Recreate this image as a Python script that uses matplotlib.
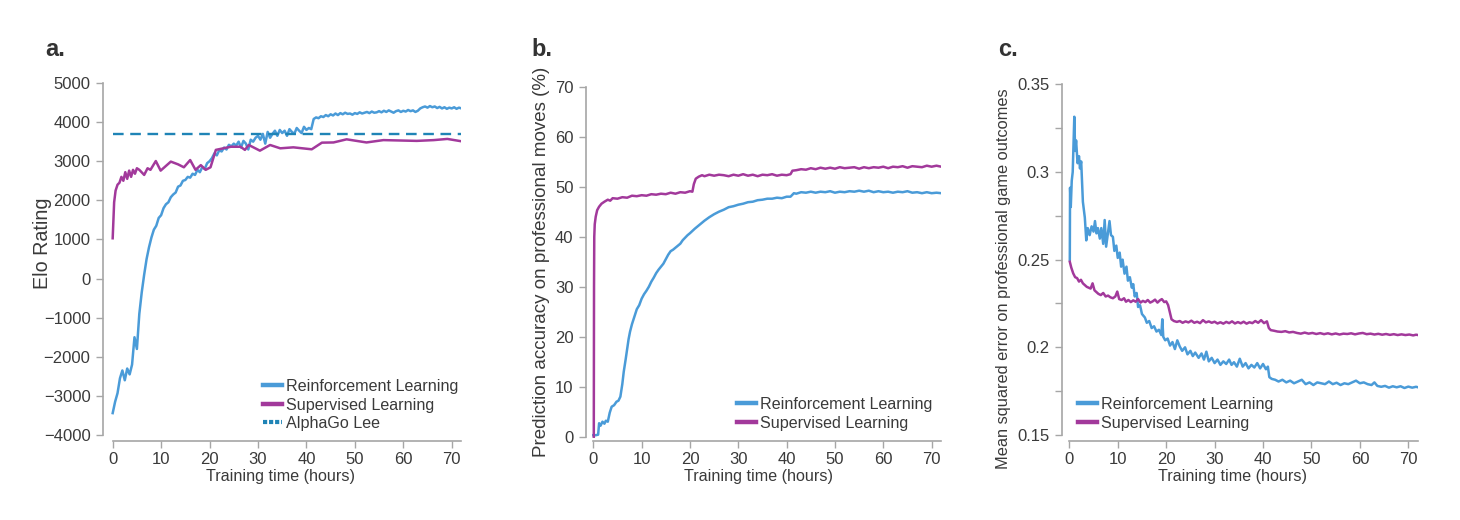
import numpy as np
import matplotlib
matplotlib.use("Agg")
import matplotlib.pyplot as plt

plt.rcParams['font.family'] = ['Liberation Sans', 'DejaVu Sans']

# ---------------- data ----------------
LABEL_RL = "Reinforcement Learning"
LABEL_SL = "Supervised Learning"
LABEL_LEE = "AlphaGo Lee"
XLABEL = "Training time (hours)"
XTICKS = [0, 10, 20, 30, 40, 50, 60, 70]

# Panel a: Elo rating
elo_rl_x = list(np.arange(0, 72.5, 0.5))
elo_rl = [-3440, -3150, -2930, -2550, -2350, -2600, -2300, -2450, -2200, -1500,
          -1800, -900, -350, 100, 500, 800, 1050, 1250, 1350, 1550,
          1620, 1800, 1900, 1950, 2080, 2150, 2200, 2350, 2380, 2500,
          2520, 2600, 2580, 2680, 2650, 2780, 2720, 2850, 2800, 2950,
          3000, 3080, 3200, 3150, 3280, 3250, 3350, 3300, 3420, 3380,
          3450, 3400, 3500, 3350, 3520, 3450, 3300, 3550, 3500, 3600,
          3650, 3550, 3700, 3450, 3750, 3600, 3700, 3780, 3650, 3800,
          3720, 3780, 3650, 3820, 3750, 3700, 3850, 3780, 3720, 3880,
          3800, 3850, 3820, 4080, 4120, 4100, 4150, 4130, 4180, 4150,
          4200, 4170, 4220, 4180, 4230, 4200, 4240, 4210, 4220, 4190,
          4230, 4210, 4250, 4220, 4240, 4260, 4230, 4270, 4240, 4250,
          4280, 4250, 4290, 4260, 4300, 4270, 4240, 4280, 4300, 4260,
          4290, 4270, 4310, 4280, 4300, 4260, 4290, 4350, 4380, 4400,
          4370, 4410, 4380, 4400, 4360, 4390, 4350, 4380, 4340, 4370,
          4350, 4380, 4340, 4370, 4350]
elo_sl_x = [0, 0.3, 0.6, 1.0, 1.4, 1.8, 2.2, 2.6, 3.0, 3.4, 3.8, 4.2, 4.6, 5.0, 5.5,
            6.5, 7.2, 7.8, 8.9, 9.9, 12.0, 13.5, 14.7, 16.0, 17.1, 18.2, 19.2, 20.2,
            21.3, 24.4, 26.4, 27.3, 28.1, 30.4, 32.5, 34.6, 37.3, 41.1, 43.2, 45.6,
            48.3, 52.4, 55.9, 62.8, 66.3, 69.1, 72.0]
elo_sl = [1030, 1950, 2250, 2400, 2450, 2600, 2500, 2720, 2550, 2760, 2600, 2780,
          2680, 2820, 2780, 2650, 2820, 2780, 3005, 2760, 2990, 2920, 2845, 3030,
          2780, 2900, 2780, 2845, 3290, 3370, 3370, 3290, 3415, 3270, 3415, 3330,
          3355, 3305, 3475, 3480, 3560, 3480, 3540, 3520, 3540, 3570, 3510]
alphago_lee_elo = 3700

# Panel b: prediction accuracy (%)
acc_sl_x = [0.1, 0.15, 0.2, 0.3, 0.5, 0.8, 1.2, 1.7, 2.3, 3, 3.5, 4, 5, 6, 7, 8, 9,
            10, 11, 12, 13, 14, 15, 16, 17, 18, 19, 20, 20.5, 20.8, 21.2, 21.8,
            22.5, 23, 24, 25, 26, 27, 28, 29, 30, 31, 32, 33, 34, 35, 36, 37, 38,
            39, 40, 40.8, 41.2, 42, 43, 44, 45, 46, 47, 48, 49, 50, 51, 52, 53, 54,
            55, 56, 57, 58, 59, 60, 61, 62, 63, 64, 65, 66, 67, 68, 69, 70, 71, 72]
acc_sl = [0, 30, 40, 42.5, 44, 45.3, 46, 46.6, 47, 47.4, 47.2, 47.7, 47.6, 47.9,
          47.8, 48.2, 48.1, 48.3, 48.2, 48.5, 48.4, 48.6, 48.5, 48.8, 48.6, 48.9,
          48.8, 49.1, 49.0, 50.5, 51.6, 52.0, 52.3, 52.1, 52.4, 52.2, 52.4, 52.3,
          52.1, 52.4, 52.2, 52.5, 52.2, 52.4, 52.1, 52.4, 52.3, 52.5, 52.2, 52.4,
          52.3, 52.5, 53.2, 53.3, 53.5, 53.4, 53.7, 53.5, 53.8, 53.6, 53.8, 53.6,
          53.9, 53.7, 53.8, 53.9, 53.6, 53.9, 53.7, 53.9, 53.8, 54.0, 53.7, 54.0,
          53.9, 54.1, 53.8, 54.1, 54.0, 53.9, 54.2, 54.0, 54.2, 54.0]
acc_rl_x = [0, 0.5, 1.0, 1.2, 1.5, 1.9, 2.3, 2.6, 3.0, 3.4, 3.8, 4.3, 4.8, 5.2, 5.6,
            6.0, 6.3, 6.7, 7.0, 7.3, 7.6, 8.0, 8.5, 9, 9.5, 10, 10.5, 11, 11.5, 12,
            12.5, 13, 13.5, 14, 14.5, 15, 15.5, 16, 16.5, 17, 17.5, 18, 18.5, 19,
            19.5, 20, 21, 22, 23, 24, 25, 26, 27, 28, 29, 30, 31, 32, 33, 34, 35,
            36, 37, 38, 39, 40, 40.8, 41.5, 42, 43, 44, 45, 46, 47, 48, 49, 50, 51,
            52, 53, 54, 55, 56, 57, 58, 59, 60, 61, 62, 63, 64, 65, 66, 67, 68, 69,
            70, 71, 72]
acc_rl = [0.3, 0.3, 0.4, 2.7, 2.2, 3.0, 2.6, 3.2, 3.0, 4.8, 6.0, 6.3, 7.0, 7.2, 8.0,
          10.5, 13, 15.5, 17.5, 19.5, 21, 22.5, 24, 25.5, 26.3, 27.6, 28.5, 29.2,
          30.0, 31.0, 31.8, 32.7, 33.4, 34.0, 34.6, 35.5, 36.4, 37.1, 37.4, 37.8,
          38.2, 38.6, 39.3, 39.8, 40.3, 40.7, 41.6, 42.4, 43.2, 43.9, 44.5, 45.0,
          45.4, 45.9, 46.1, 46.4, 46.6, 46.9, 47.0, 47.3, 47.4, 47.6, 47.6, 47.8,
          47.7, 48.0, 48.0, 48.7, 48.6, 48.9, 48.8, 49.0, 48.8, 49.0, 48.9, 49.1,
          48.8, 49.0, 48.9, 49.1, 49.0, 49.2, 49.0, 49.2, 48.9, 49.1, 48.9, 49.0,
          48.8, 49.0, 48.9, 49.1, 48.8, 48.9, 48.7, 48.9, 48.7, 48.8, 48.7]

# Panel c: mean squared error on game outcomes
mse_rl_x = [0.1, 0.15, 0.3, 0.5, 0.7, 0.9, 1.03, 1.2, 1.4, 1.7, 2.0, 2.2, 2.45, 2.8,
            3.2, 3.5, 3.8, 4.2, 4.6, 5.0, 5.3, 5.6, 5.9, 6.3, 6.6, 7.0, 7.3, 7.6,
            8.0, 8.3, 8.6, 9.0, 9.3, 9.7, 10.0, 10.4, 10.7, 11.0, 11.4, 11.8, 12.1,
            12.5, 12.9, 13.2, 13.5, 13.9, 14.2, 14.6, 15.0, 15.6, 16.0, 16.5, 17.0,
            17.5, 18.0, 18.5, 19.0, 19.2, 19.4, 19.8, 20.3, 20.8, 21.3, 21.8, 22.3,
            22.8, 23.3, 23.9, 24.4, 25.0, 25.5, 26.0, 26.7, 27.3, 27.8, 28.3, 28.8,
            29.4, 30.0, 30.6, 31.2, 31.8, 32.4, 33.0, 33.5, 34.0, 34.6, 35.2, 35.8,
            36.4, 37.0, 37.6, 38.2, 38.8, 39.4, 40.0, 40.6, 41.0, 41.3, 41.8, 42.5,
            43.2, 44.0, 44.8, 45.6, 46.4, 47.2, 48.0, 48.8, 49.6, 50.4, 51.2, 52.0,
            52.8, 53.6, 54.4, 55.2, 56.0, 56.8, 57.6, 58.4, 59.2, 60.0, 60.8, 61.6,
            62.4, 63.0, 63.6, 64.4, 65.2, 66.0, 66.8, 67.6, 68.4, 69.2, 70.0, 70.8,
            71.6, 72.0]
mse_rl = [0.250, 0.291, 0.280, 0.295, 0.300, 0.318, 0.3315, 0.312, 0.318, 0.305,
          0.309, 0.302, 0.306, 0.283, 0.274, 0.261, 0.268, 0.264, 0.269, 0.266,
          0.272, 0.265, 0.268, 0.262, 0.268, 0.259, 0.2726, 0.2574, 0.266, 0.272,
          0.264, 0.263, 0.255, 0.258, 0.251, 0.254, 0.246, 0.250, 0.242, 0.246,
          0.238, 0.240, 0.234, 0.236, 0.229, 0.231, 0.223, 0.224, 0.219, 0.217,
          0.214, 0.215, 0.211, 0.212, 0.209, 0.210, 0.207, 0.216, 0.206, 0.204,
          0.205, 0.201, 0.203, 0.199, 0.204, 0.2005, 0.198, 0.200, 0.196, 0.198,
          0.195, 0.197, 0.194, 0.1965, 0.193, 0.1975, 0.192, 0.194, 0.191, 0.193,
          0.190, 0.192, 0.1905, 0.193, 0.190, 0.1915, 0.189, 0.1935, 0.189, 0.191,
          0.188, 0.190, 0.1885, 0.191, 0.188, 0.1905, 0.1875, 0.189, 0.183, 0.182,
          0.1815, 0.1805, 0.1815, 0.1800, 0.1810, 0.1795, 0.1805, 0.1815, 0.1790,
          0.1800, 0.1785, 0.1800, 0.1795, 0.1790, 0.1805, 0.1790, 0.1798, 0.1785,
          0.1795, 0.1790, 0.1800, 0.1810, 0.1795, 0.1800, 0.1790, 0.1785, 0.1800,
          0.1780, 0.1775, 0.1780, 0.1770, 0.1778, 0.1772, 0.1778, 0.1768, 0.1776,
          0.1770, 0.1775, 0.1772]
mse_sl_x = [0.1, 0.4, 0.8, 1.2, 1.6, 2.0, 2.4, 2.8, 3.2, 3.6, 4.0, 4.4, 4.8, 5.2,
            5.6, 6.0, 6.5, 7.0, 7.5, 8.0, 8.5, 9.0, 9.5, 9.9, 10.3, 10.8, 11.3,
            11.7, 12.2, 12.7, 13.2, 13.7, 14.2, 14.7, 15.2, 15.7, 16.2, 16.7, 17.2,
            17.7, 18.2, 18.7, 19.1, 19.6, 20.0, 20.4, 20.8, 21.1, 21.6, 22.2, 22.8,
            23.4, 24.0, 24.6, 25.2, 25.8, 26.4, 27.0, 27.6, 28.2, 28.8, 29.4, 30.0,
            30.6, 31.2, 31.8, 32.4, 33.0, 33.6, 34.2, 34.8, 35.4, 36.0, 36.6, 37.2,
            37.8, 38.4, 39.0, 39.6, 40.2, 40.8, 41.2, 41.6, 42.2, 43.0, 43.8, 44.6,
            45.4, 46.2, 47.0, 47.8, 48.6, 49.4, 50.2, 51.0, 51.8, 52.6, 53.4, 54.2,
            55.0, 55.8, 56.6, 57.4, 58.2, 59.0, 59.8, 60.6, 61.4, 62.2, 63.0, 63.8,
            64.6, 65.4, 66.2, 67.0, 67.8, 68.6, 69.4, 70.2, 71.0, 71.6, 72.0]
mse_sl = [0.2488, 0.2455, 0.2422, 0.2400, 0.2395, 0.2375, 0.2385, 0.2365, 0.2355,
          0.2345, 0.2340, 0.2335, 0.2365, 0.2325, 0.2315, 0.2305, 0.2298, 0.2310,
          0.2290, 0.2295, 0.2285, 0.2280, 0.2290, 0.2318, 0.2275, 0.2270, 0.2280,
          0.2260, 0.2270, 0.2258, 0.2268, 0.2260, 0.2275, 0.2255, 0.2265, 0.2258,
          0.2270, 0.2255, 0.2262, 0.2272, 0.2255, 0.2268, 0.2275, 0.2258, 0.2262,
          0.2241, 0.2195, 0.2160, 0.2150, 0.2145, 0.2150, 0.2140, 0.2148, 0.2142,
          0.2152, 0.2140, 0.2146, 0.2138, 0.2155, 0.2142, 0.2148, 0.2140, 0.2146,
          0.2136, 0.2143, 0.2135, 0.2145, 0.2138, 0.2148, 0.2136, 0.2144, 0.2137,
          0.2146, 0.2135, 0.2143, 0.2138, 0.2150, 0.2140, 0.2155, 0.2138, 0.2148,
          0.2110, 0.2098, 0.2095, 0.2090, 0.2088, 0.2092, 0.2085, 0.2088, 0.2082,
          0.2078, 0.2084, 0.2078, 0.2082, 0.2076, 0.2081, 0.2075, 0.2080, 0.2074,
          0.2079, 0.2073, 0.2078, 0.2076, 0.2080, 0.2074, 0.2079, 0.2082, 0.2075,
          0.2078, 0.2073, 0.2077, 0.2072, 0.2076, 0.2071, 0.2075, 0.2070, 0.2074,
          0.2070, 0.2073, 0.2068, 0.2072, 0.2070]

# ---------------- style ----------------
C_RL = "#4a9bd8"
C_SL = "#a2399b"
C_LEE = "#1f84b6"
C_AX = "#a6a6a6"
C_TXT = "#3a3a3a"
FS = 11.6
FS_TICK = 12.0
LW = 1.8

W, H = 1460, 520
fig = plt.figure(figsize=(W / 100, H / 100), dpi=100)


def px_axes(left, top, right, bottom):
    return fig.add_axes([left / W, 1 - bottom / H, (right - left) / W, (bottom - top) / H])


def style(ax, ylo, yhi, xlo):
    for s in ("top", "right"):
        ax.spines[s].set_visible(False)
    for s in ("left", "bottom"):
        ax.spines[s].set_color(C_AX)
        ax.spines[s].set_linewidth(1.2)
    ax.spines["left"].set_bounds(ylo, yhi)
    ax.spines["bottom"].set_bounds(0, 72)
    ax.set_xlim(xlo, 72)
    ax.set_xticks(XTICKS)
    ax.tick_params(axis="both", which="both", colors=C_AX, labelcolor=C_TXT,
                   labelsize=FS_TICK, length=5, width=1.0, pad=4)
    ax.tick_params(axis="x", pad=3)


def legend(ax, anchor_px):
    leg = ax.legend(loc="upper left", bbox_to_anchor=(anchor_px[0] / W, 1 - anchor_px[1] / H),
                    bbox_transform=fig.transFigure, frameon=False, fontsize=FS,
                    handlelength=1.15, handletextpad=0.3, labelspacing=0.22,
                    borderpad=0, borderaxespad=0)
    for t in leg.get_texts():
        t.set_color(C_TXT)
    for ln in leg.get_lines():
        ln.set_linewidth(3.2)
    return leg


# ---- panel a ----
axa = px_axes(103, 83, 461.4, 441)
axa.plot(elo_rl_x, elo_rl, color=C_RL, lw=LW, label=LABEL_RL)
axa.plot(elo_sl_x, elo_sl, color=C_SL, lw=LW, label=LABEL_SL)
axa.plot([0, 72], [alphago_lee_elo, alphago_lee_elo], color=C_LEE, lw=1.7,
         dashes=(4.5, 2.8), label=LABEL_LEE)
axa.set_ylim(-4153, 5000)
axa.set_yticks(list(range(-4000, 5001, 1000)))
axa.set_yticklabels([("\u2212" + str(-v)) if v < 0 else str(v) for v in range(-4000, 5001, 1000)])
style(axa, -4000, 5000, -2.0)
lega = legend(axa, (263, 379))
lega.get_lines()[2].set_dashes((1.0, 0.45))
lega.get_lines()[2].set_linewidth(3.0)

# ---- panel b ----
axb = px_axes(586, 86.7, 941.3, 440.7)
axb.plot(acc_rl_x, acc_rl, color=C_RL, lw=LW, label=LABEL_RL)
axb.plot(acc_sl_x, acc_sl, color=C_SL, lw=LW, label=LABEL_SL)
axb.set_ylim(-0.8, 70)
axb.set_yticks(list(range(0, 71, 10)))
style(axb, 0, 70, -1.51)
legend(axb, (737, 397))

# ---- panel c ----
axc = px_axes(1062.3, 84.3, 1418.0, 441)
axc.plot(mse_rl_x, mse_rl, color=C_RL, lw=LW, label=LABEL_RL)
axc.plot(mse_sl_x, mse_sl, color=C_SL, lw=LW, label=LABEL_SL)
axc.set_ylim(0.14658, 0.35)
axc.set_yticks([0.15, 0.2, 0.25, 0.3, 0.35])
axc.set_yticklabels(["0.15", "0.2", "0.25", "0.3", "0.35"])
axc.set_yticks([0.175, 0.225, 0.275, 0.325], minor=True)
style(axc, 0.15, 0.35, -1.45)
legend(axc, (1078, 397))

# ---- labels ----
for xc, yc, txt, fs in [(42.7, 243, "Elo Rating", 14.2),
                        (541.7, 261.5, "Prediction accuracy on professional moves (%)", 13.5),
                        (1003.3, 279, "Mean squared error on professional game outcomes", 11.8)]:
    fig.text(xc / W, 1 - yc / H, txt, rotation=90, ha="center", va="center",
             fontsize=fs, color=C_TXT)
for xc in (281, 758.5, 1233):
    fig.text(xc / W, 1 - 476 / H, XLABEL, ha="center", va="center", fontsize=FS, color=C_TXT)
for xl, txt in [(45, "a."), (531, "b."), (998, "c.")]:
    fig.text(xl / W, 1 - 50 / H, txt, ha="left", va="center", fontsize=17,
             fontweight="bold", color="#333333")

fig.savefig("out.png", dpi=100, facecolor="white")
